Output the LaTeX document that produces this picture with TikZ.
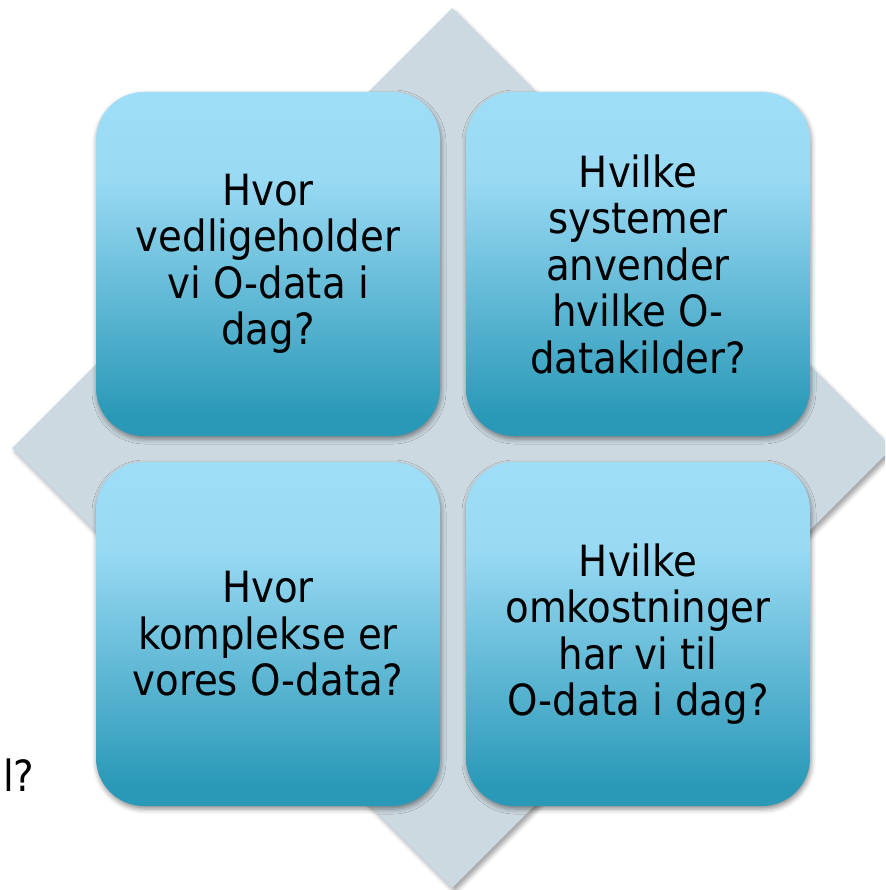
\documentclass[tikz,border=0pt]{standalone}
\usepackage{fontspec}
\setmainfont{DejaVu Sans Condensed}
\usetikzlibrary{shadows.blur}
\definecolor{diam}{RGB}{204,217,224}
\definecolor{btop}{RGB}{158,222,248}
\definecolor{btoptwo}{RGB}{152,217,243}
\definecolor{bbot}{RGB}{42,153,184}
\pgfdeclareverticalshading{boxshade}{100bp}{color(0bp)=(bbot); color(28bp)=(bbot); color(62bp)=(btoptwo); color(75bp)=(btop); color(100bp)=(btop)}
\begin{document}
\begin{tikzpicture}[x=1pt,y=-1pt,
  qbox/.style={minimum width=344pt, minimum height=344pt, inner sep=0pt,
    rounded corners=48pt, shading=boxshade,
    blur shadow={shadow xshift=1pt, shadow yshift=-3pt, shadow blur radius=5pt, shadow opacity=45},
    align=center, text=black, font=\fontsize{43}{46.5}\selectfont},
  qtext/.style={font=\fontsize{43}{46.5}\selectfont, text=black, inner sep=0pt}]
\useasboundingbox (0,0) rectangle (885,890);
\begin{scope}
\clip (0,0) rectangle (885,890);
\coordinate (dt) at (452,8);
\coordinate (dr) at (892,448);
\coordinate (db) at (452,888);
\coordinate (dl) at (12,448);
\path[fill=diam, blur shadow={shadow xshift=3pt, shadow yshift=-4pt, shadow blur radius=4pt, shadow opacity=35}]
  (dt) -- (dr) -- (db) -- (dl) -- cycle;
\end{scope}
\node[qtext, anchor=base west] (cut) at (3,791) {l?};
\node[qbox] (q1) at (268,264) {Hvor\\vedligeholder\\vi O-data i\\dag?};
\node[qbox] (q2) at (638,264) {Hvilke\\systemer\\anvender\\hvilke O-\\datakilder?};
\node[qbox] (q3) at (268,634) {Hvor\\komplekse er\\vores O-data?};
\node[qbox] (q4) at (638,634) {Hvilke\\omkostninger\\har vi til\\O-data i dag?};
\end{tikzpicture}
\end{document}
